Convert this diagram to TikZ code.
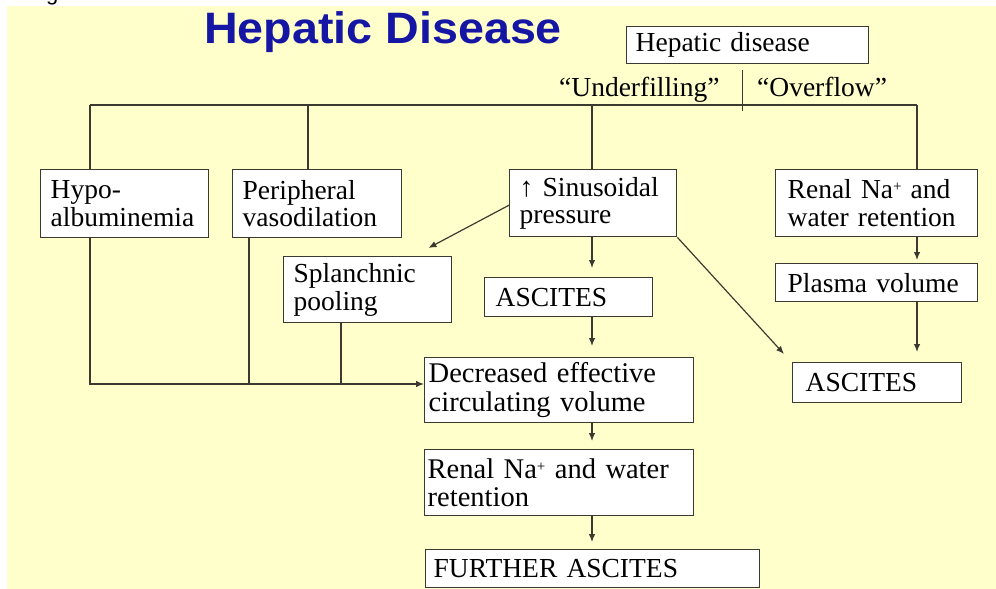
\documentclass[tikz,border=0pt]{standalone}
\usepackage{fontspec}
\usetikzlibrary{arrows.meta,calc}
\newfontfamily\bxfamily{Liberation Serif}
\newfontfamily\ttlfamily{Liberation Sans}
\newcommand\bxf{\bxfamily\fontsize{27.5}{27.5}\selectfont}
\newcommand\bxg{\bxfamily\fontsize{28.5}{28.5}\selectfont}
\newcommand\ttlf{\ttlfamily\bfseries\fontsize{44}{44}\selectfont}
\newcommand\plussup{\raisebox{0.55ex}{\fontsize{15}{15}\selectfont +}}
\definecolor{bgc}{RGB}{255,255,204}
\definecolor{ttlc}{RGB}{22,22,165}
\definecolor{lnc}{RGB}{58,58,48}
\tikzset{
  bx/.style={draw=lnc, line width=1.4pt, fill=white, anchor=north west,
    inner xsep=10pt, inner ysep=0pt, align=left, font=\bxf},
  lbl/.style={inner sep=0pt, anchor=base west, font=\bxf},
  ln/.style={draw=lnc, line width=1.2pt},
  arr/.style={ln, -{Latex[length=8pt,width=6.5pt]}}
}
\begin{document}
\begin{tikzpicture}[x=1pt,y=-1pt]
\useasboundingbox (0,0) rectangle (996,589);
\fill[white] (0,0) rectangle (996,589);
\fill[bgc] (7,6) rectangle (996,589);
\node[inner sep=0pt, anchor=base west, font=\ttlfamily\fontsize{22}{22}\selectfont] (frag) at (46,0) {g};
\node[anchor=base west, inner sep=0pt, font=\ttlf, text=ttlc] (title) at (204,43) {\scalebox{1.06}[1]{Hepatic Disease}};

\node[bx, minimum height=37pt, inner xsep=9pt, text width=224pt] (hd) at (626,26) {\raisebox{-2pt}{Hepatic disease}};
\node[lbl] (uf) at (559,96) {“Underfilling”};
\node[lbl] (of) at (757,96) {“Overflow”};

\node[bx, text width=148pt, minimum height=68pt] (hypo) at (40,169) {Hypo-\\albuminemia};
\node[bx, text width=149pt, minimum height=68pt] (peri) at (232,169) {Peripheral\\vasodilation};
\node[bx, text width=147pt, minimum height=67pt] (sinus) at (509,169) {↑ Sinusoidal\\pressure};
\node[bx, inner xsep=12pt, text width=178pt, minimum height=67pt] (renr) at (775,169) {Renal Na\plussup\ and\\water retention};
\node[bx, inner xsep=12pt, text width=178pt, minimum height=38pt] (plas) at (775,263) {Plasma volume};
\node[bx, text width=148pt, minimum height=66pt] (splan) at (283,256) {Splanchnic\\pooling};
\node[bx, inner xsep=11pt, text width=146pt, minimum height=39pt] (asc1) at (484,277) {ASCITES};
\node[bx, inner xsep=13pt, text width=143pt, minimum height=40pt] (asc2) at (792,362) {ASCITES};
\node[bx, font=\bxg, inner xsep=4pt, text width=261pt, minimum height=65pt] (dec) at (424,357) {Decreased effective\\circulating volume};
\node[bx, font=\bxg, inner xsep=3pt, text width=263pt, minimum height=66pt] (renb) at (424,449) {Renal Na\plussup\ and water\\retention};
\node[bx, inner xsep=8pt, text width=318pt, minimum height=38pt] (fur) at (425,549) {FURTHER ASCITES};

% top bus
\coordinate (bL) at (90,105);
\coordinate (b2) at (308,105);
\coordinate (b3) at (592,105);
\coordinate (bR) at (917,105);
\draw[ln] (bL) -- (bR);
\draw[ln] ([xshift=-5pt,yshift=-6pt]hd.south) -- ([xshift=-5pt,yshift=-6pt]hd.south |- bL);
\draw[ln] (bL) -- (bL |- hypo.north);
\draw[ln] (b2) -- (b2 |- peri.north);
\draw[ln] (b3) -- (b3 |- sinus.north);
\draw[ln] (bR) -- (bR |- renr.north);

% middle chain
\draw[arr, shorten >=9pt] (b3 |- sinus.south) -- (b3 |- asc1.north);
\draw[arr, shorten >=11pt] (b3 |- asc1.south) -- (b3 |- dec.north);
\draw[arr, shorten >=8pt] (b3 |- dec.south) -- (b3 |- renb.north);
\draw[arr, shorten >=7pt] (b3 |- renb.south) -- (b3 |- fur.north);

% right chain
\draw[arr, shorten >=3pt] (bR |- renr.south) -- (bR |- plas.north);
\draw[arr, shorten >=10pt] (bR |- plas.south) -- (bR |- asc2.north);

% diagonals
\draw[arr] (sinus.south east) -- ([xshift=-8pt,yshift=8pt]asc2.north west);
\draw[arr] ([yshift=-2pt]sinus.west) -- ([xshift=-24pt,yshift=8pt]splan.north east);

% left merge
\coordinate (mg) at (90,384);
\draw[arr] (bL |- hypo.south) -- (mg) -- (mg -| dec.west);
\draw[ln] ([xshift=17pt]peri.south west) -- ([xshift=17pt]peri.south west |- mg);
\draw[ln] ([xshift=58pt]splan.south west) -- ([xshift=58pt]splan.south west |- mg);
\end{tikzpicture}
\end{document}
